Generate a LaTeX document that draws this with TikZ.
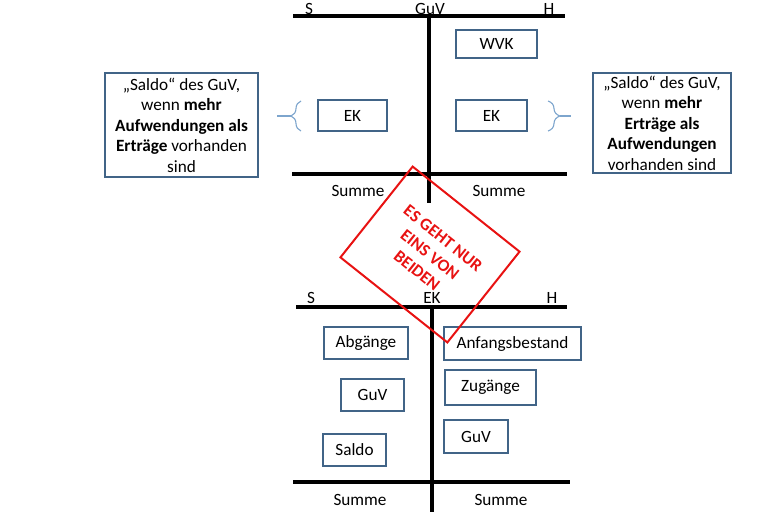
\documentclass[tikz,border=0pt]{standalone}
\usepackage{fontspec}
\setmainfont{Carlito}
\usetikzlibrary{decorations.pathreplacing}
\definecolor{kontoblue}{RGB}{65,100,135}
\definecolor{bracelight}{RGB}{125,165,205}
\definecolor{stampred}{RGB}{232,18,18}
\tikzset{
  konto/.style={draw=black,line width=4pt},
  seite/.style={font=\fontsize{17.2}{20}\selectfont,inner sep=0pt,anchor=base},
  posten/.style={draw=kontoblue,line width=1.1pt,font=\fontsize{17.2}{20}\selectfont,inner sep=0pt},
  hinweis/.style={draw=kontoblue,line width=1.1pt,align=center,
    font=\fontsize{17.2}{20.5}\selectfont,inner sep=0pt},
  klammer/.style={draw=bracelight,line width=1.1pt},
  stempel/.style={draw=stampred,line width=2pt,text=stampred,align=center,
    font=\bfseries\fontsize{17.2}{21}\selectfont,inner sep=0pt}
}

\begin{document}
\begin{tikzpicture}[x=1pt,y=-1pt]
  \useasboundingbox (0,0) rectangle (771,512);

  % Konto GuV oben
  \draw[konto] (293,16) -- (565,16);
  \draw[konto] (429,16) -- (429,203);
  \draw[konto] (292,174) -- (567,174);

  \node[seite] (guv-s) at (309,14) {S};
  \node[seite] (guv-t) at (430,14) {GuV};
  \node[seite] (guv-h) at (549,14) {H};

  \node[posten,minimum width=81pt,minimum height=28pt] (wvk) at (496.5,44) {WVK};
  \node[posten,minimum width=69pt,minimum height=31pt] (ek-s) at (352.5,115.5) {EK};
  \node[posten,minimum width=71pt,minimum height=31pt] (ek-h) at (491.5,115.5) {EK};

  \node[seite] (guv-sum-s) at (358,196) {Summe};
  \node[seite] (guv-sum-h) at (499,196) {Summe};

  \node[hinweis,minimum width=153pt,minimum height=104pt] (hinweis-s) at (181.5,125)
    {„Saldo“ des GuV,\\wenn \textbf{mehr}\\\textbf{Aufwendungen als}\\\textbf{Erträge} vorhanden\\sind};
  \node[hinweis,minimum width=138pt,minimum height=100pt] (hinweis-h) at (662,123)
    {„Saldo“ des GuV,\\wenn \textbf{mehr}\\\textbf{Erträge als}\\\textbf{Aufwendungen}\\vorhanden sind};

  \coordinate (kl-s-o) at (301,101);
  \coordinate (kl-s-u) at (301,131);
  \coordinate (kl-s-spitze) at (291,116);
  \coordinate (kl-s-ende) at (277,116);
  \draw[klammer,decorate,decoration={brace,amplitude=10pt}] (kl-s-u) -- (kl-s-o);
  \draw[klammer] (kl-s-spitze) -- (kl-s-ende);

  \coordinate (kl-h-o) at (548,101);
  \coordinate (kl-h-u) at (548,131);
  \coordinate (kl-h-spitze) at (560,116);
  \coordinate (kl-h-ende) at (571,116);
  \draw[klammer,decorate,decoration={brace,amplitude=12pt}] (kl-h-o) -- (kl-h-u);
  \draw[klammer] (kl-h-spitze) -- (kl-h-ende);

  % Konto EK unten
  \draw[konto] (296,307) -- (567,307);
  \draw[konto] (432,307) -- (432,512);
  \draw[konto] (293,482) -- (570,482);

  \node[seite] (ek-ks) at (311,303) {S};
  \node[seite] (ek-kt) at (432,303) {EK};
  \node[seite] (ek-kh) at (552,303) {H};

  \node[posten,minimum width=84pt,minimum height=32pt] (abgaenge) at (366,343) {Abgänge};
  \node[posten,minimum width=63pt,minimum height=32pt] (guv-soll) at (372.5,395) {GuV};
  \node[posten,minimum width=63pt,minimum height=32pt] (saldo) at (354.5,450) {Saldo};
  \node[posten,minimum width=137pt,minimum height=33pt] (anfang) at (512.5,343.5) {Anfangsbestand};
  \node[posten,minimum width=91pt,minimum height=35pt] (zugaenge) at (490.5,387.5) {Zugänge};
  \node[posten,minimum width=64pt,minimum height=33pt] (guv-haben) at (476,436.5) {GuV};

  \node[seite] (ek-sum-s) at (360,505) {Summe};
  \node[seite] (ek-sum-h) at (501,505) {Summe};

  \node[stempel,rotate=-38.5,minimum width=136.6pt,minimum height=116pt] (stempel) at (430,254.5)
    {ES GEHT NUR\\EINS VON\\BEIDEN};
\end{tikzpicture}
\end{document}
